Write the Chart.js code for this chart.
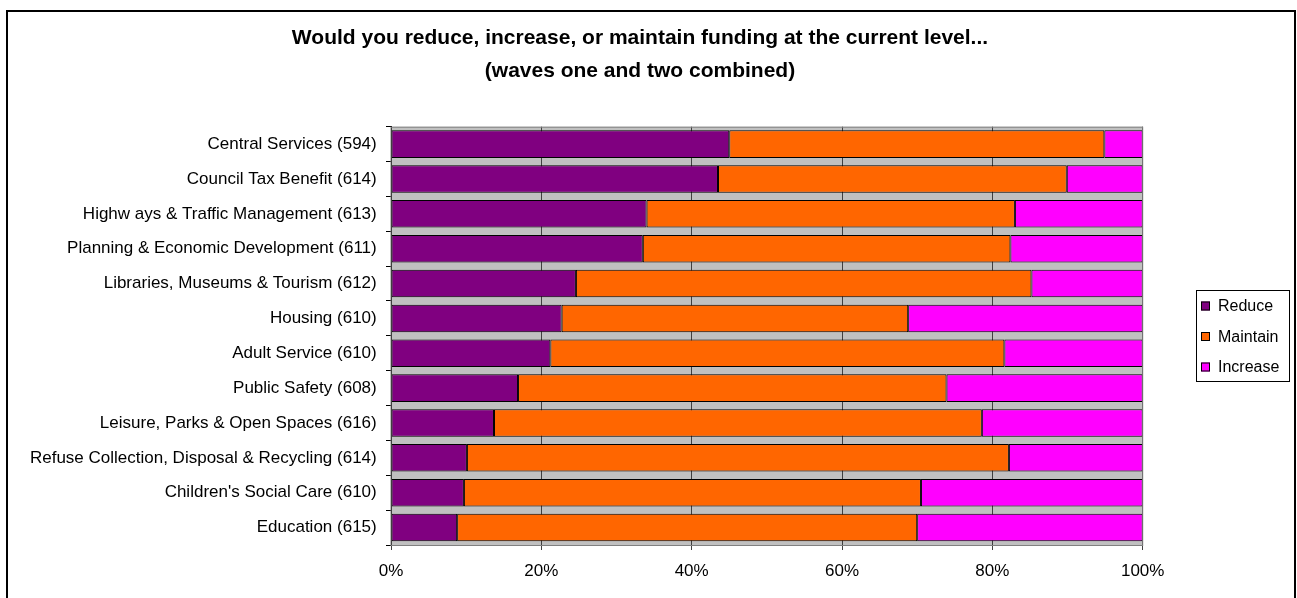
<!DOCTYPE html>
<html lang="en">
<head>
    <meta charset="UTF-8">
    <title>Funding preferences</title>
    <script src="https://cdn.jsdelivr.net/npm/chart.js"></script>
    <style>
        body {
            margin: 0;
            background: #fff;
        }
        #wrap {
            width: 1297px;
            height: 598px;
        }
    </style>
</head>
<body>
    <div id="wrap"><canvas id="grafico"></canvas></div>

    <script>
        const categorias = [
            "Central Services (594)",
            "Council Tax Benefit (614)",
            "Highw ays & Traffic Management (613)",
            "Planning & Economic Development (611)",
            "Libraries, Museums & Tourism (612)",
            "Housing (610)",
            "Adult Service (610)",
            "Public Safety (608)",
            "Leisure, Parks & Open Spaces (616)",
            "Refuse Collection, Disposal & Recycling (614)",
            "Children's Social Care (610)",
            "Education (615)"
        ];
        const reduce   = [45.0, 43.5, 34.0, 33.5, 24.6, 22.7, 21.2, 16.9, 13.7, 10.1, 9.7, 8.8];
        const maintain = [49.9, 46.4, 49.0, 48.9, 60.6, 46.1, 60.4, 57.0, 64.9, 72.1, 60.8, 61.2];
        const increase = [5.1, 10.1, 17.0, 17.6, 14.8, 31.2, 18.4, 26.1, 21.4, 17.8, 29.5, 30.0];
        const xTicks = [0, 20, 40, 60, 80, 100];

        const fonte = "'Liberation Sans', Arial, sans-serif";

        // fundo cinza, moldura e legenda no estilo Excel
        const moldura = {
            id: 'moldura',
            beforeDraw(chart) {
                const { ctx, chartArea: a } = chart;
                ctx.save();
                ctx.fillStyle = '#c0c0c0';
                ctx.fillRect(a.left, a.top, a.right - a.left, a.bottom - a.top);
                ctx.restore();
            },
            afterDraw(chart) {
                const { ctx, chartArea: a } = chart;
                ctx.save();
                ctx.strokeStyle = '#808080';
                ctx.lineWidth = 1;
                ctx.strokeRect(a.left, a.top + 0.5, a.right - a.left, a.bottom - a.top);
                // borda externa
                ctx.strokeStyle = '#000';
                ctx.lineWidth = 2;
                ctx.strokeRect(7, 11, 1288, 620);
                // legenda
                ctx.lineWidth = 1;
                ctx.strokeRect(1196.5, 290.5, 93, 91);
                ctx.font = '16px ' + fonte;
                ctx.textBaseline = 'middle';
                chart.data.datasets.forEach((ds, i) => {
                    const y = 306 + i * 30.5;
                    ctx.fillStyle = ds.backgroundColor;
                    ctx.fillRect(1201, y - 4.5, 9, 9);
                    ctx.strokeRect(1201.5, y - 4, 8, 8);
                    ctx.fillStyle = '#000';
                    ctx.fillText(ds.label, 1218, y + 1);
                });
                ctx.restore();
            }
        };

        function renderGrafico() {
            const ctx = document.getElementById('grafico').getContext('2d');
            const base = { borderColor: '#000', borderWidth: 1, borderSkipped: false,
                           barPercentage: 1, categoryPercentage: 0.79 };

            new Chart(ctx, {
                type: 'bar',
                data: {
                    labels: categorias,
                    datasets: [
                        { ...base, label: 'Reduce', data: reduce, backgroundColor: '#800080' },
                        { ...base, label: 'Maintain', data: maintain, backgroundColor: '#ff6600' },
                        { ...base, label: 'Increase', data: increase, backgroundColor: '#ff00ff' }
                    ]
                },
                options: {
                    indexAxis: 'y',
                    responsive: true,
                    maintainAspectRatio: false,
                    animation: false,
                    layout: { padding: { left: 8, right: 25, top: 0, bottom: 18.2 } },
                    plugins: {
                        legend: { display: false },
                        tooltip: { enabled: false },
                        title: {
                            display: true,
                            text: ['Would you reduce, increase, or maintain funding at the current level...',
                                   '(waves one and two combined)'],
                            color: '#000',
                            font: { family: fonte, size: 21, weight: 'bold', lineHeight: '33px' },
                            padding: { top: 22, bottom: 38.7 }
                        }
                    },
                    scales: {
                        x: {
                            stacked: true,
                            min: 0,
                            max: 100,
                            afterBuildTicks(scale) {
                                scale.ticks = xTicks.map(v => ({ value: v }));
                            },
                            afterFit(scale) { scale.height = 34.8; },
                            ticks: {
                                callback: v => v + '%',
                                color: '#000',
                                font: { family: fonte, size: 17 },
                                padding: 11,
                                maxRotation: 0
                            },
                            grid: { color: '#404040', tickLength: 5 },
                            border: { display: true, color: '#808080' }
                        },
                        y: {
                            stacked: true,
                            afterFit(scale) { scale.width = 391 - 8; },
                            ticks: {
                                color: '#000',
                                font: { family: fonte, size: 17 },
                                padding: 9.3,
                                autoSkip: false
                            },
                            grid: { drawOnChartArea: false, color: '#000', tickLength: 5, offset: true },
                            border: { display: true, color: '#000' }
                        },
                        // espaço reservado para a legenda à direita
                        legendaEspaco: {
                            type: 'category',
                            axis: 'y',
                            position: 'right',
                            afterFit(scale) { scale.width = 1297 - 25 - 1142.7; },
                            ticks: { display: false },
                            grid: { display: false },
                            border: { display: false }
                        }
                    }
                },
                plugins: [moldura]
            });
        }

        window.onload = () => {
            renderGrafico();
        };
    </script>
</body>
</html>
